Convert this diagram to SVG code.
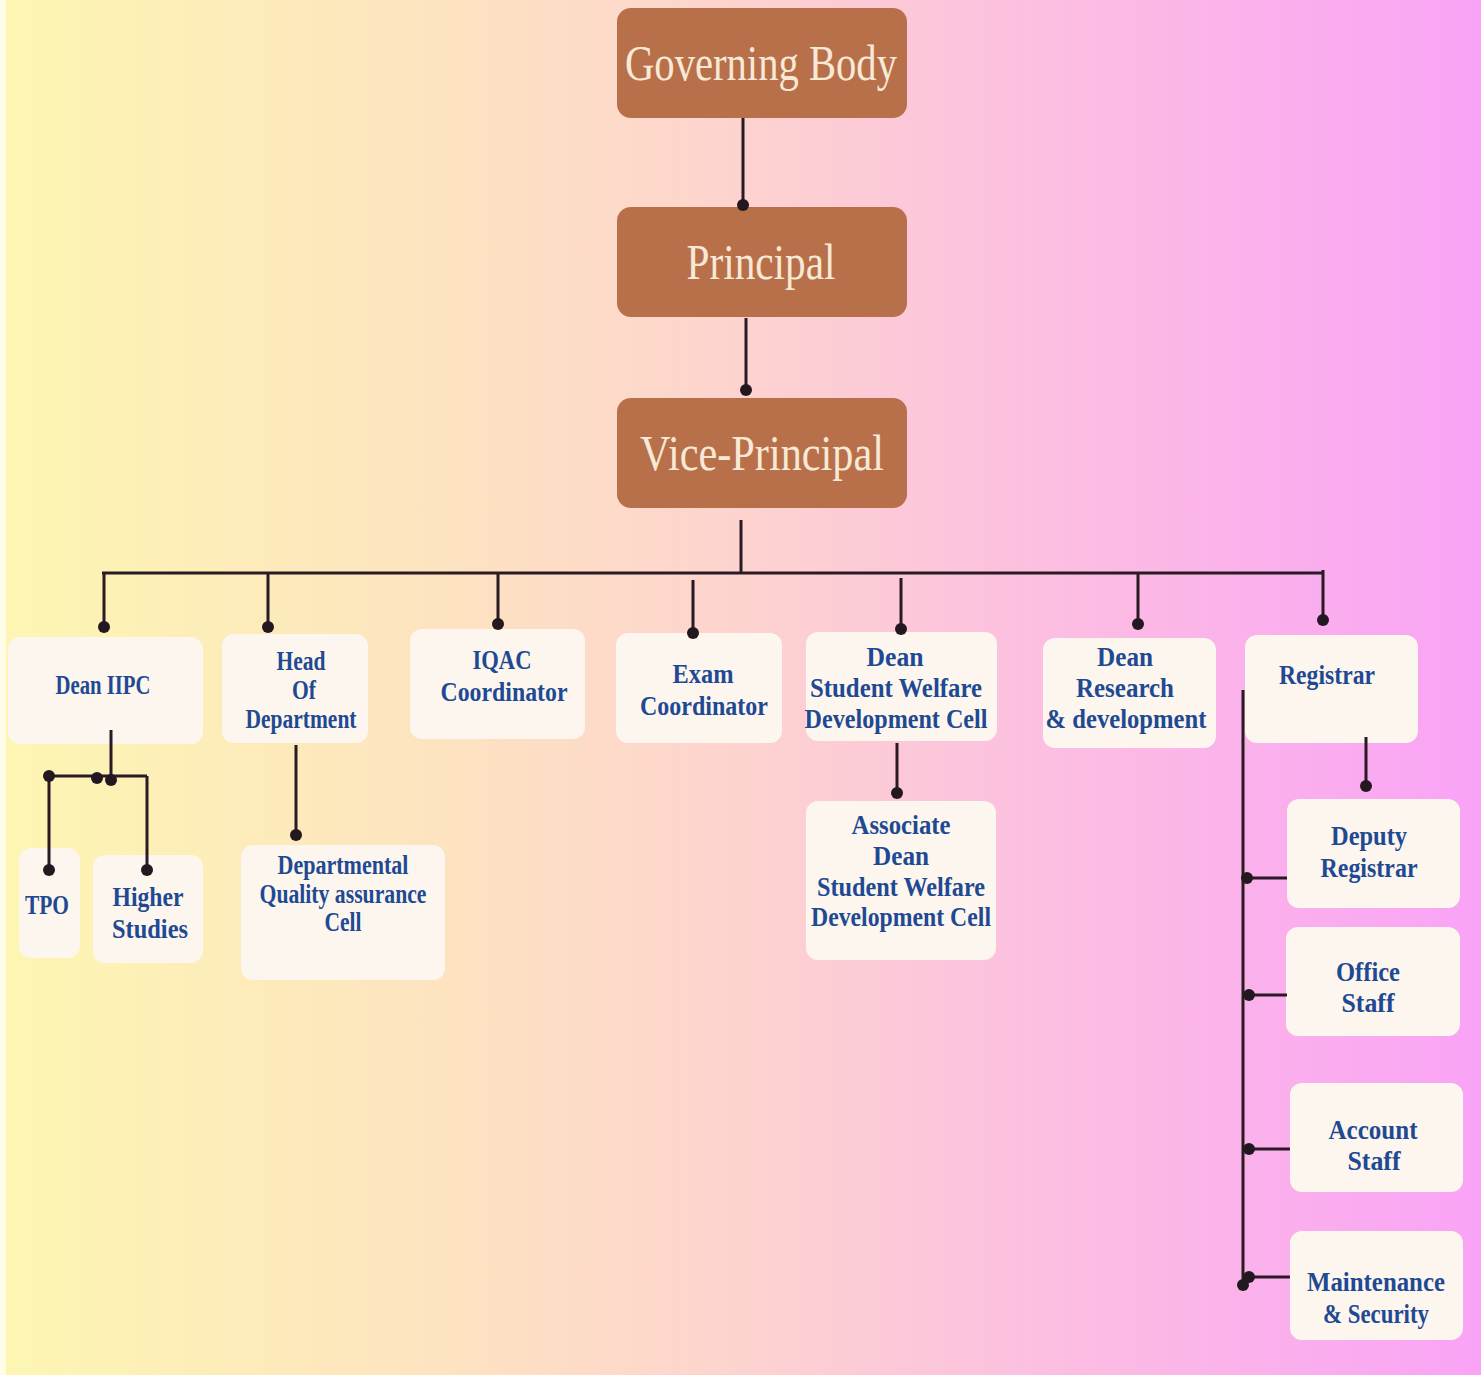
<svg xmlns="http://www.w3.org/2000/svg" width="1481" height="1375" viewBox="0 0 1481 1375">
<defs>
<linearGradient id="bg" x1="0" y1="0" x2="1" y2="0">
<stop offset="0" stop-color="#fdf6b2"/>
<stop offset="0.3" stop-color="#fde3c0"/>
<stop offset="0.5" stop-color="#fdd3cf"/>
<stop offset="0.72" stop-color="#fcbde2"/>
<stop offset="1" stop-color="#f9a3f6"/>
</linearGradient>
<style>
.top{fill:#b7704a;}
.tt{font-family:"Liberation Serif","DejaVu Serif",serif;font-size:50px;fill:#f7e9d6;text-anchor:middle;}
.box{fill:#fdf6ee;}
.t{font-family:"Liberation Serif","DejaVu Serif",serif;font-weight:bold;font-size:27px;fill:#1f4a93;text-anchor:middle;}
.ln{stroke:#2a1a24;stroke-width:3;fill:none;}
.dot{fill:#241820;}
</style>
</defs>
<rect x="0" y="0" width="1481" height="1375" fill="url(#bg)"/>
<rect x="0" y="0" width="6" height="1375" fill="#ffffff" opacity="0.7"/>

<g id="governing-body"><rect class="top" x="617" y="8" width="290" height="110" rx="14"/><text class="tt" x="761" y="80" textLength="272" lengthAdjust="spacingAndGlyphs">Governing Body</text></g>
<g id="principal"><rect class="top" x="617" y="207" width="290" height="110" rx="14"/><text class="tt" x="761" y="279" textLength="149" lengthAdjust="spacingAndGlyphs">Principal</text></g>
<g id="vice-principal"><rect class="top" x="617" y="398" width="290" height="110" rx="14"/><text class="tt" x="762" y="470" textLength="244" lengthAdjust="spacingAndGlyphs">Vice-Principal</text></g>

<g id="dean-iipc"><rect class="box" x="8" y="637" width="195" height="107" rx="12"/><text class="t" x="103" y="694" textLength="95" lengthAdjust="spacingAndGlyphs">Dean IIPC</text></g>
<g id="hod"><rect class="box" x="222" y="634" width="146" height="109" rx="12"/>
<text class="t" x="301" y="670" textLength="49" lengthAdjust="spacingAndGlyphs">Head</text>
<text class="t" x="304" y="699" textLength="24" lengthAdjust="spacingAndGlyphs">Of</text>
<text class="t" x="301" y="728" textLength="111" lengthAdjust="spacingAndGlyphs">Department</text></g>
<g id="iqac"><rect class="box" x="410" y="629" width="175" height="110" rx="12"/>
<text class="t" x="502" y="669" textLength="59" lengthAdjust="spacingAndGlyphs">IQAC</text>
<text class="t" x="504" y="701" textLength="127" lengthAdjust="spacingAndGlyphs">Coordinator</text></g>
<g id="exam"><rect class="box" x="616" y="633" width="166" height="110" rx="12"/>
<text class="t" x="703" y="683" textLength="61" lengthAdjust="spacingAndGlyphs">Exam</text>
<text class="t" x="704" y="715" textLength="128" lengthAdjust="spacingAndGlyphs">Coordinator</text></g>
<g id="dean-swdc"><rect class="box" x="806" y="632" width="191" height="109" rx="12"/>
<text class="t" x="895" y="666" textLength="57" lengthAdjust="spacingAndGlyphs">Dean</text>
<text class="t" x="896" y="697" textLength="172" lengthAdjust="spacingAndGlyphs">Student Welfare</text>
<text class="t" x="896" y="728" textLength="183" lengthAdjust="spacingAndGlyphs">Development Cell</text></g>
<g id="dean-rd"><rect class="box" x="1043" y="638" width="173" height="110" rx="12"/>
<text class="t" x="1125" y="666" textLength="56" lengthAdjust="spacingAndGlyphs">Dean</text>
<text class="t" x="1125" y="697" textLength="98" lengthAdjust="spacingAndGlyphs">Research</text>
<text class="t" x="1126" y="728" textLength="161" lengthAdjust="spacingAndGlyphs">&amp; development</text></g>
<g id="registrar"><rect class="box" x="1245" y="635" width="173" height="108" rx="12"/>
<text class="t" x="1327" y="684" textLength="96" lengthAdjust="spacingAndGlyphs">Registrar</text></g>

<g id="tpo"><rect class="box" x="19" y="848" width="61" height="110" rx="12"/>
<text class="t" x="47" y="914" textLength="44" lengthAdjust="spacingAndGlyphs">TPO</text></g>
<g id="higher-studies"><rect class="box" x="93" y="855" width="110" height="108" rx="12"/>
<text class="t" x="148" y="906" textLength="71" lengthAdjust="spacingAndGlyphs">Higher</text>
<text class="t" x="150" y="938" textLength="76" lengthAdjust="spacingAndGlyphs">Studies</text></g>
<g id="dqac"><rect class="box" x="241" y="845" width="204" height="135" rx="12"/>
<text class="t" x="343" y="874" font-size="22" textLength="131" lengthAdjust="spacingAndGlyphs">Departmental</text>
<text class="t" x="343" y="903" font-size="22" textLength="167" lengthAdjust="spacingAndGlyphs">Quality assurance</text>
<text class="t" x="343" y="931" font-size="22" textLength="37" lengthAdjust="spacingAndGlyphs">Cell</text></g>
<g id="assoc-dean"><rect class="box" x="806" y="801" width="190" height="159" rx="12"/>
<text class="t" x="901" y="834" textLength="99" lengthAdjust="spacingAndGlyphs">Associate</text>
<text class="t" x="901" y="865" textLength="56" lengthAdjust="spacingAndGlyphs">Dean</text>
<text class="t" x="901" y="896" textLength="168" lengthAdjust="spacingAndGlyphs">Student Welfare</text>
<text class="t" x="901" y="926" textLength="180" lengthAdjust="spacingAndGlyphs">Development Cell</text></g>

<g id="deputy-registrar"><rect class="box" x="1287" y="799" width="173" height="109" rx="12"/>
<text class="t" x="1369" y="845" textLength="76" lengthAdjust="spacingAndGlyphs">Deputy</text>
<text class="t" x="1369" y="877" textLength="97" lengthAdjust="spacingAndGlyphs">Registrar</text></g>
<g id="office-staff"><rect class="box" x="1286" y="927" width="174" height="109" rx="12"/>
<text class="t" x="1368" y="981" textLength="64" lengthAdjust="spacingAndGlyphs">Office</text>
<text class="t" x="1368" y="1012" textLength="53" lengthAdjust="spacingAndGlyphs">Staff</text></g>
<g id="account-staff"><rect class="box" x="1290" y="1083" width="173" height="109" rx="12"/>
<text class="t" x="1373" y="1139" textLength="89" lengthAdjust="spacingAndGlyphs">Account</text>
<text class="t" x="1374" y="1170" textLength="53" lengthAdjust="spacingAndGlyphs">Staff</text></g>
<g id="maintenance"><rect class="box" x="1290" y="1231" width="173" height="109" rx="12"/>
<text class="t" x="1376" y="1291" textLength="138" lengthAdjust="spacingAndGlyphs">Maintenance</text>
<text class="t" x="1376" y="1323" textLength="106" lengthAdjust="spacingAndGlyphs">&amp; Security</text></g>

<g id="connectors">
<path class="ln" d="M743 118V205M746 318V390M741 520V573M102 573H1323M104 573V627M268 573V627M498 573V624M693 580V633M901 578V629M1138 573V624M1323 570V620"/>
<path class="ln" d="M111 730V780M49 776H147M49 776V870M147 776V870M296 745V835M897 743V793M1366 737V786M1243 690V1287M1246 878H1287M1249 995H1287M1249 1149H1290M1249 1277H1290"/>
<g class="dot">
<circle cx="743" cy="205" r="6"/><circle cx="746" cy="390" r="6"/>
<circle cx="104" cy="627" r="6"/><circle cx="268" cy="627" r="6"/><circle cx="498" cy="624" r="6"/><circle cx="693" cy="633" r="6"/><circle cx="901" cy="629" r="6"/><circle cx="1138" cy="624" r="6"/><circle cx="1323" cy="620" r="6"/>
<circle cx="49" cy="776" r="6"/><circle cx="97" cy="778" r="6"/><circle cx="111" cy="780" r="6"/><circle cx="49" cy="870" r="6"/><circle cx="147" cy="870" r="6"/>
<circle cx="296" cy="835" r="6"/><circle cx="897" cy="793" r="6"/><circle cx="1366" cy="786" r="6"/>
<circle cx="1247" cy="878" r="6"/><circle cx="1249" cy="995" r="6"/><circle cx="1249" cy="1149" r="6"/><circle cx="1249" cy="1277" r="6"/><circle cx="1243" cy="1285" r="6"/>
</g>
</g>
</svg>
